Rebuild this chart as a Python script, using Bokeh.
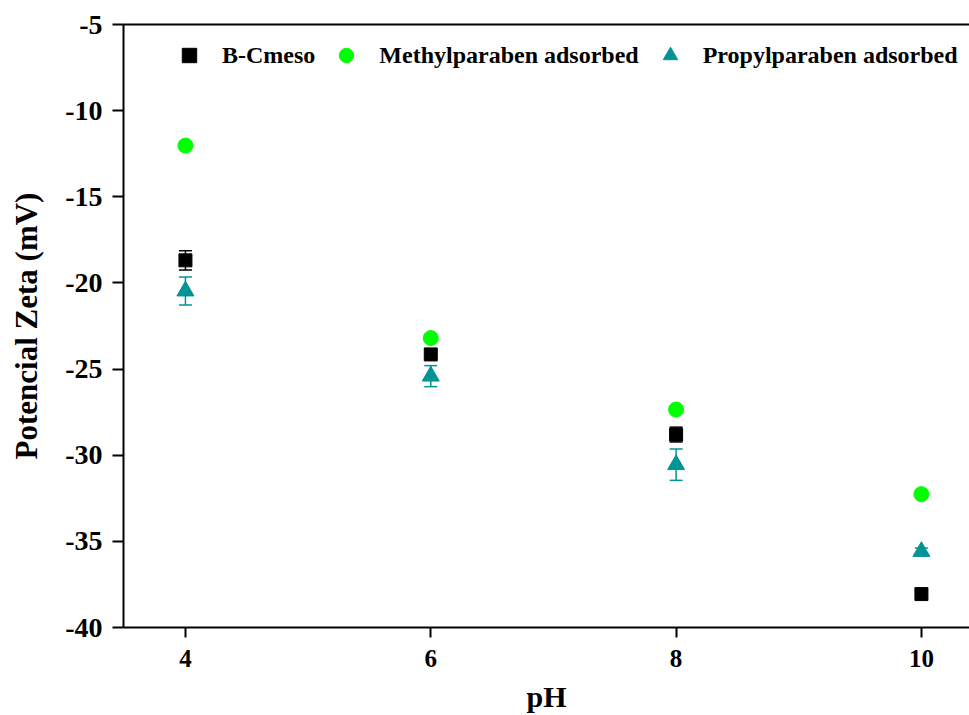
from bokeh.plotting import figure
from bokeh.models import (Range1d, ColumnDataSource, Whisker, TeeHead, Legend, LegendItem,
                          LinearAxis, FixedTicker)
from bokeh.embed import file_html
from bokeh.resources import INLINE

# ---- data ----
ph = [4, 6, 8, 10]
bcmeso = [-18.69, -24.15, -28.8, -38.06]
bcmeso_err = [0.56, 0.3, 0.43, 0.2]
methyl = [-12.03, -23.2, -27.35, -32.26]
methyl_err = [0.2, 0.2, 0.2, 0.2]
propyl = [-20.47, -25.41, -30.55, -35.59]
propyl_err = [0.81, 0.61, 0.91, 0.2]
y_ticks = [-5, -10, -15, -20, -25, -30, -35, -40]
y_tick_labels = ["-5", "-10", "-15", "-20", "-25", "-30", "-35", "-40"]
x_ticks = [4, 6, 8, 10]
x_tick_labels = ["4", "6", "8", "10"]
series_names = ["B-Cmeso", "Methylparaben adsorbed", "Propylparaben adsorbed"]

FONT = "Liberation Serif"
BLACK = "#000000"
GREEN = "#00ff00"
TEAL = "#009494"

p = figure(width=969, height=715, output_backend="svg", toolbar_location=None,
           x_range=Range1d(3.495, 10.392), y_range=Range1d(-40, -5),
           min_border_left=123, min_border_right=0, min_border_top=24, min_border_bottom=87)

p.outline_line_color = None
p.xgrid.visible = False
p.ygrid.visible = False
p.background_fill_color = "white"
p.border_fill_color = "white"

for ax in (p.xaxis[0], p.yaxis[0]):
    ax.axis_line_width = 2
    ax.axis_line_color = "black"
    ax.major_tick_line_width = 2
    ax.major_tick_line_color = "black"
    ax.major_tick_in = 0
    ax.minor_tick_line_color = None
    ax.major_label_text_font = FONT
    ax.major_label_text_font_style = "bold"
    ax.major_label_text_color = "black"
    ax.axis_label_text_font = FONT
    ax.axis_label_text_font_style = "bold"
    ax.axis_label_text_color = "black"

p.xaxis[0].ticker = FixedTicker(ticks=x_ticks)
p.xaxis[0].major_label_overrides = dict(zip(x_ticks, x_tick_labels))
p.xaxis[0].major_tick_out = 10
p.xaxis[0].major_label_text_font_size = "25px"
p.xaxis[0].major_label_standoff = 12
p.xaxis[0].axis_label = "pH"
p.xaxis[0].axis_label_text_font_size = "30px"
p.xaxis[0].axis_label_standoff = 10

p.yaxis[0].ticker = FixedTicker(ticks=y_ticks)
p.yaxis[0].major_label_overrides = dict(zip(y_ticks, y_tick_labels))
p.yaxis[0].major_tick_out = 11
p.yaxis[0].major_label_text_font_size = "28px"
p.yaxis[0].major_label_standoff = 10
p.yaxis[0].axis_label = "Potencial Zeta (mV)"
p.yaxis[0].axis_label_text_font_size = "31px"
p.yaxis[0].axis_label_standoff = 18

top_axis = LinearAxis(ticker=FixedTicker(ticks=[]), axis_line_width=2, axis_line_color="black",
                      major_tick_line_color=None, minor_tick_line_color=None,
                      major_label_text_font_size="0px")
p.add_layout(top_axis, "above")

src = ColumnDataSource(data=dict(
    x=ph,
    b=bcmeso, b_lo=[v - e for v, e in zip(bcmeso, bcmeso_err)], b_hi=[v + e for v, e in zip(bcmeso, bcmeso_err)],
    m=methyl, m_lo=[v - e for v, e in zip(methyl, methyl_err)], m_hi=[v + e for v, e in zip(methyl, methyl_err)],
    pr=propyl, p_lo=[v - e for v, e in zip(propyl, propyl_err)], p_hi=[v + e for v, e in zip(propyl, propyl_err)],
))

def add_whisker(lo, hi, color):
    w = Whisker(source=src, base="x", lower=lo, upper=hi, line_color=color, line_width=1.5,
                upper_head=TeeHead(size=13, line_color=color, line_width=1.5),
                lower_head=TeeHead(size=13, line_color=color, line_width=1.5))
    p.add_layout(w)

add_whisker("m_lo", "m_hi", GREEN)
add_whisker("b_lo", "b_hi", BLACK)
add_whisker("p_lo", "p_hi", TEAL)

r_b = p.scatter("x", "b", source=src, marker="square", size=13, fill_color=BLACK, line_color=BLACK)
r_m = p.scatter("x", "m", source=src, marker="circle", size=15, fill_color=GREEN, line_color=GREEN)
r_p = p.scatter("x", "pr", source=src, marker="triangle", size=17, fill_color=TEAL, line_color=TEAL)

legend = Legend(items=[LegendItem(label=series_names[0], renderers=[r_b]),
                       LegendItem(label=series_names[1], renderers=[r_m]),
                       LegendItem(label=series_names[2], renderers=[r_p])],
                orientation="horizontal", location=(48, 554),
                border_line_color=None, background_fill_alpha=0,
                padding=0, margin=0, spacing=13, label_standoff=15,
                glyph_width=36, glyph_height=36, label_height=36,
                label_text_font=FONT, label_text_font_style="bold",
                label_text_font_size="24px", label_text_color="black")
p.add_layout(legend, "center")

open("out.html", "w").write(file_html(p, INLINE))
